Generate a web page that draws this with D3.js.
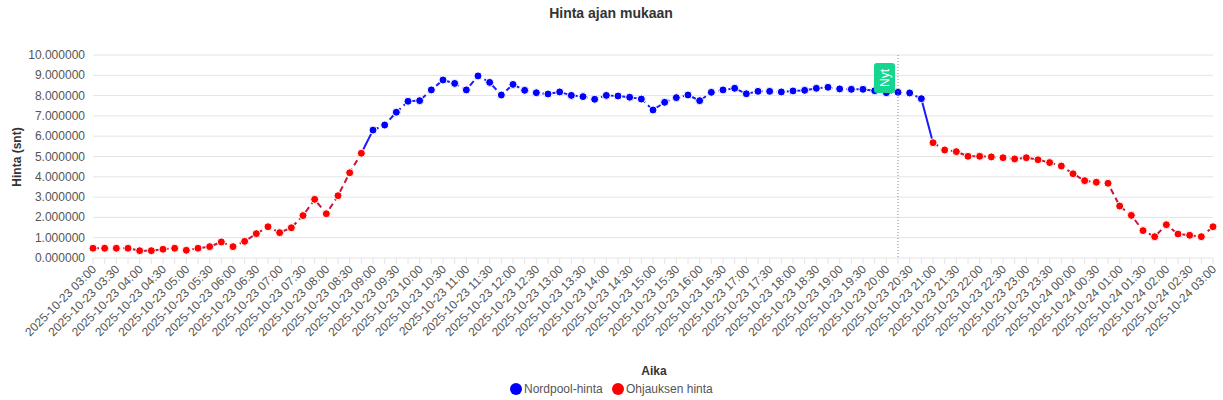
<!DOCTYPE html>
<html><head><meta charset="utf-8">
<script src="https://cdn.jsdelivr.net/npm/d3@7/dist/d3.min.js"></script>
<style>body{margin:0;background:#fff;font-family:"Liberation Sans",Arial,sans-serif}</style>
</head><body><svg id="c" width="1223" height="400"></svg>
<script>
const startTime = "2025-10-23T03:00:00";
const stepMinutes = 15;
const ohjausStart = [0.48,0.48,0.48,0.48,0.36,0.36,0.43,0.48,0.38,0.48,0.56,0.79,0.56,0.82,1.2,1.54,1.25,1.49,2.09,2.89,2.18,3.07,4.2,5.16];
const nordpool = [6.3,6.55,7.18,7.72,7.75,8.28,8.77,8.6,8.28,8.97,8.65,8.03,8.55,8.26,8.14,8.08,8.18,8.01,7.95,7.82,8.01,7.98,7.92,7.83,
7.29,7.67,7.9,8.03,7.75,8.16,8.28,8.36,8.09,8.21,8.21,8.18,8.23,8.26,8.36,8.41,8.33,8.31,8.31,8.24,8.14,8.16,8.13,7.85];
const ohjausEnd = [5.68,5.32,5.24,5.01,5.01,4.98,4.94,4.88,4.94,4.84,4.7,4.53,4.15,3.81,3.73,3.68,2.56,2.1,1.35,1.05,1.64,1.18,1.12,1.05,1.54];
const yTicks = [0,1,2,3,4,5,6,7,8,9,10];
const nowIndex = 69;

const svg = d3.select("#c");
const L=93,R=1213,T=55,B=258;
const n = ohjausStart.length+nordpool.length+ohjausEnd.length;
const t0 = new Date(startTime);
const times = d3.range(n).map(i=>new Date(t0.getTime()+i*stepMinutes*60000));
const x = d3.scaleTime().domain([times[0],times[n-1]]).range([L,R]);
const y = d3.scaleLinear().domain([0,10]).range([B,T]);
const fmt = d3.timeFormat("%Y-%m-%d %H:%M");

// grid
svg.append("g").selectAll("line").data(yTicks).join("line")
 .attr("x1",L).attr("x2",R).attr("y1",d=>y(d)).attr("y2",d=>y(d))
 .attr("stroke","#e4e4e4").attr("stroke-width",1);
svg.append("g").selectAll("text").data(yTicks).join("text")
 .attr("x",L-8).attr("y",d=>y(d)+4).attr("text-anchor","end")
 .attr("font-size",12).attr("fill","#555").text(d=>d.toFixed(6));
// x ticks at each point
svg.append("g").selectAll("line").data(times).join("line")
 .attr("x1",d=>x(d)).attr("x2",d=>x(d)).attr("y1",B).attr("y2",B+6).attr("stroke","#e4e4e4");
const labelTimes = times.filter((d,i)=>i%2===0);
svg.append("g").selectAll("text").data(labelTimes).join("text")
 .attr("transform",d=>`translate(${x(d)+4},${B+12}) rotate(-45)`)
 .attr("text-anchor","end").attr("font-size",12).attr("fill","#555").text(fmt);

// data
const pts = [];
ohjausStart.forEach((v,i)=>pts.push({t:times[i],v,s:"o"}));
nordpool.forEach((v,i)=>pts.push({t:times[ohjausStart.length+i],v,s:"n"}));
ohjausEnd.forEach((v,i)=>pts.push({t:times[ohjausStart.length+nordpool.length+i],v,s:"o"}));
const line = d3.line().x(d=>x(d.t)).y(d=>y(d.v));
const a=ohjausStart.length, b=a+nordpool.length;
const segs = [
 {d:pts.slice(0,a),c:"#c8143c",dash:"6,4"},
 {d:pts.slice(a-1,a+1),c:"#1a1aff",dash:null},
 {d:pts.slice(a,b),c:"#1a1aff",dash:"6,4"},
 {d:pts.slice(b-1,b+1),c:"#1a1aff",dash:null},
 {d:pts.slice(b),c:"#c8143c",dash:"6,4"}];
segs.forEach(s=>svg.append("path").attr("d",line(s.d)).attr("fill","none")
 .attr("stroke",s.c).attr("stroke-width",2).attr("stroke-dasharray",s.dash));
svg.append("g").selectAll("circle").data(pts).join("circle")
 .attr("cx",d=>x(d.t)).attr("cy",d=>y(d.v)).attr("r",4)
 .attr("fill",d=>d.s==="n"?"#0000ff":"#ff0000").attr("stroke","#fff").attr("stroke-width",1);

// now line
const nx = x(times[nowIndex]);
svg.append("line").attr("x1",nx).attr("x2",nx).attr("y1",T).attr("y2",B)
 .attr("stroke","#888").attr("stroke-dasharray","1,2");
svg.append("rect").attr("x",nx-24).attr("y",63).attr("width",21).attr("height",30).attr("rx",3).attr("fill","#16d68f");
svg.append("text").attr("transform",`translate(${nx-13.5},78) rotate(-90)`).attr("text-anchor","middle")
 .attr("dy","0.35em").attr("font-size",12).attr("fill","#fff").text("Nyt");

// titles
svg.append("text").attr("x",611).attr("y",18).attr("text-anchor","middle").attr("font-weight","bold").attr("font-size",14).attr("fill","#333").text("Hinta ajan mukaan");
svg.append("text").attr("transform","translate(21,157) rotate(-90)").attr("text-anchor","middle").attr("font-weight","bold").attr("font-size",12).attr("fill","#333").text("Hinta (snt)");
svg.append("text").attr("x",654).attr("y",375).attr("text-anchor","middle").attr("font-weight","bold").attr("font-size",12).attr("fill","#333").text("Aika");
const leg=[{n:"Nordpool-hinta",c:"#0000ff",x:516},{n:"Ohjauksen hinta",c:"#ff0000",x:618}];
leg.forEach(l=>{svg.append("circle").attr("cx",l.x).attr("cy",389).attr("r",6).attr("fill",l.c);
 svg.append("text").attr("x",l.x+8).attr("y",393).attr("font-size",12).attr("fill","#555").text(l.n);});
</script></body></html>
